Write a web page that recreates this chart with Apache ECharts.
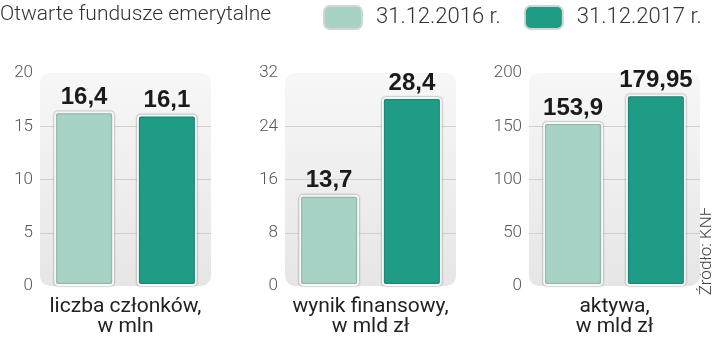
<!DOCTYPE html>
<html>
<head>
<meta charset="utf-8">
<script src="https://cdn.jsdelivr.net/npm/echarts@6/dist/echarts.min.js"></script>
<style>html,body{margin:0;padding:0;background:#fff}#c{width:720px;height:341px}</style>
</head>
<body>
<div id="c"></div>
<script>
const titleText = 'Otwarte fundusze emerytalne';
const sourceText = 'Źródło: KNF';
const seriesNames = ['31.12.2016 r.', '31.12.2017 r.'];
const categories = ['liczba członków,\nw mln', 'wynik finansowy,\nw mld zł', 'aktywa,\nw mld zł'];
const values2016 = [16.4, 13.7, 153.9];
const values2017 = [16.1, 28.4, 179.95];
const yMax = [20, 32, 200];
const yInterval = [5, 8, 50];

const colors = ['#a6d3c5', '#1e9c86'];
const gridLefts = [40, 285, 529];

const chart = echarts.init(document.getElementById('c'), null, {renderer: 'canvas'});

const grids = [], xAxes = [], yAxes = [], series = [];
const fmt = v => String(v.value !== undefined ? v.value : v).replace('.', ',');

for (let i = 0; i < 3; i++) {
  grids.push({left: gridLefts[i], top: 73, width: 171, height: 213, containLabel: false});
  xAxes.push({
    type: 'category', gridIndex: i, data: [categories[i]],
    axisLine: {show: false}, axisTick: {show: false},
    axisLabel: {margin: 11, fontFamily: 'Roboto', fontSize: 21, lineHeight: 20, color: '#222'}
  });
  yAxes.push({
    type: 'value', gridIndex: i, min: 0, max: yMax[i], interval: yInterval[i], z: 1,
    axisLine: {show: false}, axisTick: {show: false},
    splitLine: {show: true, showMinLine: false, showMaxLine: false, lineStyle: {color: '#cfcfcf', width: 1}},
    axisLabel: {margin: 7, fontFamily: 'Roboto', fontWeight: 300, fontSize: 17, color: '#555'}
  });
}
for (let i = 0; i < 3; i++) {
  xAxes.push({type: 'category', gridIndex: i, data: [''], show: false});
}

const barStyle = c => ({
  color: c, borderColor: '#f7f7f7', borderWidth: 2, borderRadius: 3,
  shadowBlur: 2, shadowColor: 'rgba(0,0,0,0.45)'
});
const labelStyle = {
  show: true, position: 'top', distance: 2, formatter: fmt,
  fontFamily: 'Liberation Sans', fontWeight: 'bold', fontSize: 24, color: '#1a1a1a'
};

for (let i = 0; i < 3; i++) {
  series.push({
    type: 'bar', name: 'tło', xAxisIndex: 3 + i, yAxisIndex: i, data: [yMax[i]],
    barWidth: '100%', silent: true, z: 0, legendHoverLink: false,
    itemStyle: {
      borderRadius: 10,
      color: new echarts.graphic.LinearGradient(0, 0, 0, 1, [
        {offset: 0, color: '#f7f7f7'}, {offset: 1, color: '#e6e6e6'}
      ])
    }
  });
  series.push({
    type: 'bar', name: seriesNames[0], xAxisIndex: i, yAxisIndex: i,
    data: [values2016[i]], barWidth: 60, barGap: '38%',
    itemStyle: barStyle(colors[0]), label: labelStyle
  });
  series.push({
    type: 'bar', name: seriesNames[1], xAxisIndex: i, yAxisIndex: i,
    data: [values2017[i]], barWidth: 60, barGap: '38%',
    itemStyle: barStyle(colors[1]), label: labelStyle
  });
}

chart.setOption({
  animation: false,
  title: {
    text: titleText, left: 0, top: 4, padding: 0,
    textStyle: {fontFamily: 'Roboto', fontWeight: 300, fontSize: 21, color: '#333'}
  },
  legend: {
    data: seriesNames, left: 323, top: 5, padding: 0,
    itemWidth: 38, itemHeight: 23, itemGap: 23, icon: 'roundRect',
    itemStyle: {borderColor: '#d4d4d4', borderWidth: 2, shadowBlur: 0},
    textStyle: {fontFamily: 'Roboto', fontWeight: 300, fontSize: 22, color: '#333', padding: [0, 0, 0, 9]}
  },
  graphic: [{
    type: 'text', x: 707, y: 251, rotation: Math.PI / 2,
    style: {text: sourceText, align: 'center', verticalAlign: 'middle',
      fontFamily: 'Roboto', fontWeight: 300, fontSize: 17, fill: '#444'}
  }],
  grid: grids, xAxis: xAxes, yAxis: yAxes, series: series
});
</script>
</body>
</html>
